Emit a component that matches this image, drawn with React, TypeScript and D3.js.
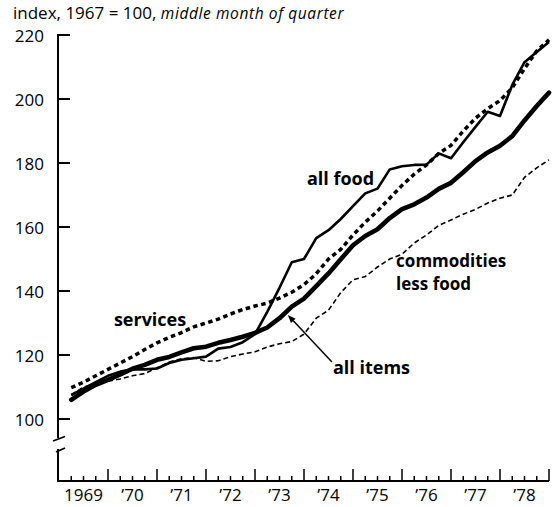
import React from "react";
import * as d3 from "d3";

const years = [1969, 1970, 1971, 1972, 1973, 1974, 1975, 1976, 1977, 1978];
const yearLabels = ["1969", "\u201970", "\u201971", "\u201972", "\u201973", "\u201974", "\u201975", "\u201976", "\u201977", "\u201978"];
const yTicks = [100, 120, 140, 160, 180, 200, 220];

// quarterly values, 1969 Q1 .. 1978 Q4
const allItems = [
  106.0, 108.6, 110.7, 112.2,
  113.9, 115.7, 116.9, 118.5,
  119.4, 120.8, 122.1, 122.6,
  123.8, 124.7, 125.7, 126.9,
  128.6, 131.5, 135.1, 137.6,
  141.5, 145.5, 149.9, 154.3,
  157.2, 159.3, 162.8, 165.6,
  167.1, 169.2, 171.9, 173.8,
  177.1, 180.6, 183.3, 185.4,
  188.4, 193.3, 197.8, 202.0,
];
const allFood = [
  107.5, 109.5, 111.5, 113.5,
  114.8, 115.5, 115.5, 115.8,
  117.5, 118.5, 119.0, 119.5,
  122.0, 122.5, 124.0, 126.5,
  133.5, 141.0, 149.0, 150.0,
  156.5, 159.0, 162.5, 166.5,
  170.5, 172.0, 178.0, 179.0,
  179.4, 179.5, 183.0, 181.5,
  186.5, 191.3, 196.0, 194.7,
  204.4, 211.5, 214.7, 217.8,
];
const services = [
  109.8, 111.5, 113.5, 115.5,
  117.5, 119.5, 121.7, 123.8,
  125.5, 127.0, 128.8, 130.0,
  131.2, 132.8, 134.2, 135.3,
  136.2, 137.8, 139.6, 142.0,
  145.4, 150.0, 153.0, 157.5,
  161.5, 165.0, 169.0, 173.0,
  176.5, 179.4, 183.0, 185.5,
  190.0, 194.0, 197.0, 199.5,
  203.5, 209.5, 215.0, 218.5,
];
const commoditiesLessFood = [
  107.5, 110.0, 111.0, 111.8,
  112.5, 113.5, 114.2, 116.0,
  117.8, 118.8, 119.2, 118.0,
  118.2, 119.5, 120.3, 121.0,
  122.5, 123.5, 124.2, 126.5,
  131.5, 134.0, 139.5, 143.5,
  144.5, 147.5, 150.0, 151.5,
  155.0, 157.5, 160.5, 162.2,
  164.0, 165.5, 167.5, 169.0,
  170.0, 175.5, 178.5, 181.0,
];

const W = 552;
const H = 507;
const FONT = "'Open Sans', 'Noto Sans', sans-serif";

export default function App() {
  const x = d3.scaleLinear().domain([1969, 1979]).range([59, 549]);
  const y = d3.scaleLinear().domain([100, 220]).range([419, 35]);
  const axisX = 58;
  const baseY = 481;

  const times: number[] = [];
  years.forEach((yr) => [1, 2, 3, 4].forEach((q) => times.push(yr + q / 4)));

  const line = d3
    .line<number>()
    .x((_, i) => x(times[i]))
    .y((v) => y(v))
    .curve(d3.curveLinear);

  const quarterTicks: { t: number; major: boolean }[] = [];
  years.forEach((yr) => [1, 2, 3, 4].forEach((q) => quarterTicks.push({ t: yr + q / 4, major: q === 4 })));

  const tipX = x(1973.67), tipY = y(132.5);
  const tailX = x(1974.57), tailY = y(117.8);
  const ang = Math.atan2(tipY - tailY, tipX - tailX);
  const ah = 8, aw = 3.2;
  const bx = tipX - ah * Math.cos(ang), by = tipY - ah * Math.sin(ang);
  const head = `M${tipX},${tipY} L${bx + aw * Math.sin(ang)},${by - aw * Math.cos(ang)} L${bx - aw * Math.sin(ang)},${by + aw * Math.cos(ang)} Z`;

  const labX = x(1975.88);

  return (
    <svg width={W} height={H} style={{ position: "absolute", left: 0, top: 0, background: "#fff" }} fontFamily={FONT}>
      <rect width={W} height={H} fill="#fff" />
      <text x={13} y={18.6} fontSize={17} fill="#000">
        index, 1967 = 100,{" "}
        <tspan fontStyle="italic" fontSize={15.5} letterSpacing={0.6}>middle month of quarter</tspan>
      </text>

      {/* y axis */}
      <line x1={axisX} x2={axisX} y1={y(220) - 1} y2={438} stroke="#000" strokeWidth={2} />
      <line x1={axisX} x2={axisX} y1={449} y2={baseY + 1} stroke="#000" strokeWidth={2} />
      <line x1={53} x2={65} y1={441} y2={436.5} stroke="#000" strokeWidth={1.8} />
      <line x1={56} x2={65} y1={452} y2={448} stroke="#000" strokeWidth={1.8} />
      {yTicks.map((v) => (
        <g key={v}>
          <line x1={axisX} x2={axisX + 12} y1={y(v)} y2={y(v)} stroke="#000" strokeWidth={2} />
          <text x={44} y={y(v)} dy="0.4em" textAnchor="end" fontSize={17} fill="#000">{v}</text>
        </g>
      ))}

      {/* x axis */}
      <line x1={axisX - 1} x2={x(1979)} y1={baseY} y2={baseY} stroke="#000" strokeWidth={2} />
      {quarterTicks.map((d, i) => (
        <line key={i} x1={x(d.t)} x2={x(d.t)} y1={baseY} y2={baseY - (d.major ? 12 : 5)} stroke="#000" strokeWidth={1.5} />
      ))}
      {years.map((yr, i) => (
        <text key={yr} x={x(yr + 0.5)} y={501} textAnchor="middle" fontSize={17} fill="#000">{yearLabels[i]}</text>
      ))}

      {/* series */}
      <path d={line(commoditiesLessFood) || ""} fill="none" stroke="#000" strokeWidth={1.6} strokeDasharray="5 3" />
      <path d={line(services) || ""} fill="none" stroke="#000" strokeWidth={3.5} strokeDasharray="4.5 3.5" />
      <path d={line(allFood) || ""} fill="none" stroke="#000" strokeWidth={2.6} strokeLinejoin="round" />
      <path d={line(allItems) || ""} fill="none" stroke="#000" strokeWidth={4.6} strokeLinejoin="round" strokeLinecap="round" />

      {/* labels */}
      <text x={x(1970.12)} y={y(129)} fontSize={18} fontWeight="bold" fill="#000">services</text>
      <text x={x(1974.06)} y={y(173)} fontSize={18} fontWeight="bold" fill="#000">all food</text>
      <text x={labX} y={y(147.6)} fontSize={17} fontWeight="bold" fill="#000">commodities</text>
      <text x={labX} y={y(147.6) + 23.5} fontSize={17} fontWeight="bold" fill="#000">less food</text>
      <text x={x(1974.59)} y={y(114)} fontSize={18} fontWeight="bold" fill="#000">all items</text>
      <line x1={tailX} y1={tailY} x2={bx} y2={by} stroke="#000" strokeWidth={1.5} />
      <path d={head} fill="#000" />
    </svg>
  );
}
